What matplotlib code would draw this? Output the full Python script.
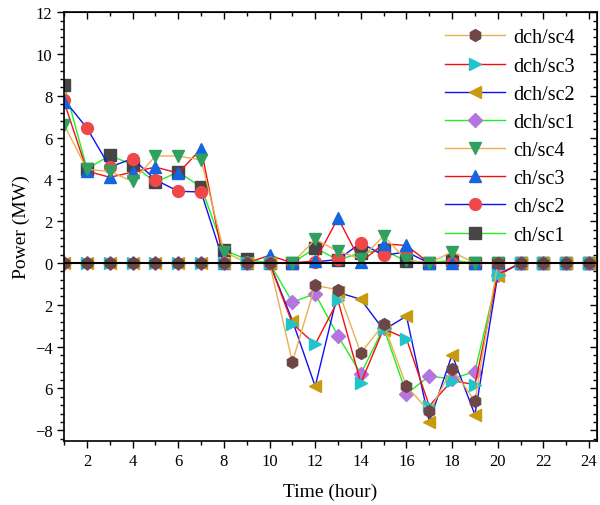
import matplotlib.pyplot as plt
from matplotlib.ticker import MultipleLocator

plt.rcParams['font.family'] = ['Liberation Serif', 'DejaVu Serif']

hours = list(range(1, 25))

# charging power (MW)
ch_sc1 = [8.5, 4.5, 5.15, 4.7, 3.87, 4.35, 3.64, 0.62, 0.17, 0, 0, 0.72,
          0.15, 0.49, 0.6, 0.1, 0, 0.13, 0, 0, 0, 0, 0, 0]
ch_sc2 = [7.8, 6.45, 4.59, 5.0, 3.98, 3.43, 3.4, 0, 0, 0, 0, 0.05,
          0.17, 0.96, 0.37, 0.53, 0, 0, 0, 0, 0, 0, 0, 0]
ch_sc3 = [7.7, 4.4, 4.1, 4.35, 4.59, 4.3, 5.47, 0, 0, 0.37, 0, 0.1,
          2.15, 0.05, 0.92, 0.84, 0, 0, 0, 0, 0, 0, 0, 0]
ch_sc4 = [6.6, 4.48, 4.38, 3.9, 5.12, 5.12, 4.93, 0.55, 0, 0, 0, 1.13,
          0.56, 0.2, 1.29, 0.15, 0, 0.53, 0, 0, 0, 0, 0, 0]

# discharging power (MW)
dch_sc1 = [0] * 10 + [-1.87, -1.47, -3.49, -5.3, -3.1, -6.25, -5.41, -5.54,
                      -5.19, -0.55, 0, 0, 0, 0]
dch_sc2 = [0] * 10 + [-2.75, -5.9, -1.4, -1.74, -3.2, -2.54, -7.58, -4.39,
                      -7.26, -0.6, 0, 0, 0, 0]
dch_sc3 = [0] * 10 + [-2.9, -3.89, -1.79, -5.74, -3.14, -3.62, -6.84, -5.62,
                      -5.82, -0.55, 0, 0, 0, 0]
dch_sc4 = [0] * 10 + [-4.74, -1.07, -1.28, -4.31, -2.92, -5.89, -7.1, -5.06,
                      -6.6, 0, 0, 0, 0, 0]

y_ticks = [-8, -6, -4, -2, 0, 2, 4, 6, 8, 10, 12]
y_labels = ['\u22128', '6', '\u22124', '2', '0', '2', '4', '6', '8', '10', '12']

tan = '#E8B050'
series = [
    (ch_sc1, 'ch/sc1', '#22EE22', 's', '#454545'),
    (ch_sc2, 'ch/sc2', '#1010F0', 'o', '#F04848'),
    (ch_sc3, 'ch/sc3', '#F01010', '^', '#1565E0'),
    (ch_sc4, 'ch/sc4', tan, 'v', '#30A060'),
    (dch_sc1, 'dch/sc1', '#22EE22', 'D', '#B574E0'),
    (dch_sc2, 'dch/sc2', '#1010F0', '<', '#C89A10'),
    (dch_sc3, 'dch/sc3', '#F01010', '>', '#20C4CC'),
    (dch_sc4, 'dch/sc4', tan, 'h', '#6E4646'),
]

fig = plt.figure(figsize=(6, 5.06), dpi=100)
ax = fig.add_axes([0.107, 0.127, 0.888, 0.847])

handles = []
for vals, name, lc, mk, mc in series:
    ms = 7 if mk == 'D' else 8.5
    h, = ax.plot(hours, vals, color=lc, lw=1.0, marker=mk, ms=ms,
                 mfc=mc, mec=mc, label=name)
    handles.append(h)

ax.axhline(0, color='black', lw=1.5, zorder=3)

ax.set_xlim(1, 24.35)
ax.set_ylim(-8.5, 12)
ax.xaxis.set_major_locator(MultipleLocator(2))
ax.xaxis.set_minor_locator(MultipleLocator(1))
ax.set_yticks(y_ticks)
ax.set_yticklabels(y_labels)
ax.yaxis.set_minor_locator(MultipleLocator(0.4))

ax.tick_params(which='both', direction='out', top=False, right=False,
               labelsize=12)
ax.tick_params(which='major', length=5, width=1)
ax.tick_params(which='minor', length=3, width=1)

# inward ticks on the top and right edges
top = ax.secondary_xaxis('top')
top.xaxis.set_major_locator(MultipleLocator(2))
top.xaxis.set_minor_locator(MultipleLocator(1))
top.tick_params(which='both', direction='in', labeltop=False, width=1)
top.tick_params(which='major', length=5)
top.tick_params(which='minor', length=3)
right = ax.secondary_yaxis('right')
right.set_yticks(y_ticks)
right.yaxis.set_minor_locator(MultipleLocator(0.4))
right.tick_params(which='both', direction='in', labelright=False, width=1)
right.tick_params(which='major', length=5)
right.tick_params(which='minor', length=3)

for sp in ax.spines.values():
    sp.set_linewidth(1.2)

ax.set_xlabel('Time (hour)', fontsize=14, labelpad=10)
ax.set_ylabel('Power (MW)', fontsize=14, labelpad=3)

ax.legend(handles[::-1], [h.get_label() for h in handles[::-1]],
          loc='upper right', bbox_to_anchor=(0.985, 0.995), frameon=False,
          fontsize=14.5, handlelength=3.0, labelspacing=0.45,
          handletextpad=0.4, borderaxespad=0.3)

fig.savefig('out.png', dpi=100)
